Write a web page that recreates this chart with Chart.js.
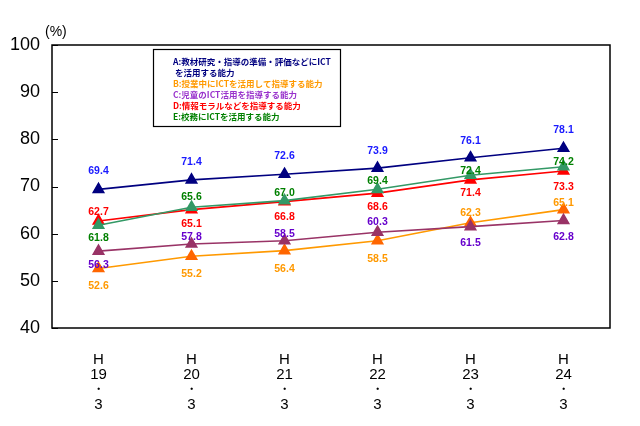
<!DOCTYPE html>
<html>
<head>
<meta charset="utf-8">
<script src="https://cdn.jsdelivr.net/npm/chart.js@4"></script>
<style>
  html, body { margin: 0; padding: 0; background: #fff; }
  #wrap { width: 640px; height: 426px; }
</style>
</head>
<body>
<div id="wrap"><canvas id="ictChart" width="640" height="426"></canvas></div>
<script>
// データ
const categories = [
    ['H', '19', '・', '3'],
    ['H', '20', '・', '3'],
    ['H', '21', '・', '3'],
    ['H', '22', '・', '3'],
    ['H', '23', '・', '3'],
    ['H', '24', '・', '3']
];
const valuesA = [69.4, 71.4, 72.6, 73.9, 76.1, 78.1];
const valuesB = [52.6, 55.2, 56.4, 58.5, 62.3, 65.1];
const valuesC = [56.3, 57.8, 58.5, 60.3, 61.5, 62.8];
const valuesD = [62.7, 65.1, 66.8, 68.6, 71.4, 73.3];
const valuesE = [61.8, 65.6, 67.0, 69.4, 72.4, 74.2];
const yTicks = [40, 50, 60, 70, 80, 90, 100];

const legendLines = [
    ['A:教材研究・指導の準備・評価などにICT', ' を活用する能力'],
    ['B:授業中にICTを活用して指導する能力'],
    ['C:児童のICT活用を指導する能力'],
    ['D:情報モラルなどを指導する能力'],
    ['E:校務にICTを活用する能力']
];

// ラベルの縦方向のずれ (px)
const offsetsA = [-18, -18, -18, -17, -17, -18];
const offsetsB = [18, 18, 18, 18, -10, -7];
const offsetsC = [14, -7, -7, -10, 17, 17];
const offsetsD = [-9, 14, 16, 14, 13, 16];
const offsetsE = [13, -10, -8, -8, -4, -5];

function makeSet(label, data, lineColor, markColor, textColor, offsets, order) {
    return {
        label: label,
        data: data,
        borderColor: lineColor,
        backgroundColor: markColor,
        pointBackgroundColor: markColor,
        pointBorderColor: markColor,
        pointStyle: 'triangle',
        pointRadius: 6,
        borderWidth: 1.6,
        fill: false,
        tension: 0,
        order: order,
        labelColor: textColor,
        labelOffsets: offsets
    };
}

// 枠線・目盛り・凡例・数値ラベル
const decorPlugin = {
    id: 'decor',
    afterDraw(chart) {
        const ctx = chart.ctx;
        const area = chart.chartArea;
        const yScale = chart.scales.y;
        ctx.save();

        // plot frame
        ctx.strokeStyle = '#000';
        ctx.lineWidth = 1.5;
        ctx.strokeRect(area.left, area.top, area.right - area.left, area.bottom - area.top);

        // inner ticks
        ctx.lineWidth = 1;
        yTicks.forEach(v => {
            const y = Math.round(yScale.getPixelForValue(v)) + 0.5;
            ctx.beginPath();
            ctx.moveTo(area.left, y);
            ctx.lineTo(area.left + 6, y);
            ctx.stroke();
        });

        // (%)
        ctx.fillStyle = '#000';
        ctx.font = '14px "Liberation Sans", sans-serif';
        ctx.textAlign = 'left';
        ctx.textBaseline = 'middle';
        ctx.fillText('(%)', 45, 32);

        // data labels
        ctx.font = 'bold 10.5px "Liberation Sans", sans-serif';
        ctx.textAlign = 'center';
        chart.data.datasets.forEach((ds, i) => {
            const meta = chart.getDatasetMeta(i);
            ctx.fillStyle = ds.labelColor;
            meta.data.forEach((pt, j) => {
                ctx.fillText(ds.data[j].toFixed(1), pt.x, pt.y + ds.labelOffsets[j]);
            });
        });

        // legend box
        const bx = 153, by = 49, bw = 187, bh = 77;
        ctx.fillStyle = '#fff';
        ctx.fillRect(bx, by, bw, bh);
        ctx.strokeStyle = '#000';
        ctx.lineWidth = 1.2;
        ctx.strokeRect(bx + 0.5, by + 0.5, bw, bh);
        ctx.font = 'bold 8.5px "Noto Sans CJK JP", sans-serif';
        ctx.textAlign = 'left';
        let ly = 62;
        legendLines.forEach((lines, i) => {
            ctx.fillStyle = chart.data.datasets[i].legendText;
            lines.forEach(t => {
                ctx.fillText(t, 173, ly);
                ly += 11;
            });
        });
        ctx.restore();
    }
};

const datasets = [
    makeSet('A', valuesA, '#000080', '#000080', '#1a1aff', offsetsA, 5),
    makeSet('B', valuesB, '#ff9900', '#ff6600', '#ff9900', offsetsB, 4),
    makeSet('C', valuesC, '#993366', '#993366', '#6600cc', offsetsC, 3),
    makeSet('D', valuesD, '#ff0000', '#ff0000', '#ff0000', offsetsD, 2),
    makeSet('E', valuesE, '#339966', '#339966', '#008000', offsetsE, 1)
];
const legendColors = ['#000080', '#ff9900', '#9933cc', '#ff0000', '#008000'];
datasets.forEach((ds, i) => { ds.legendText = legendColors[i]; });

const ctxIct = document.getElementById('ictChart').getContext('2d');
const ictChart = new Chart(ctxIct, {
    type: 'line',
    data: {
        labels: categories,
        datasets: datasets
    },
    options: {
        responsive: false,
        animation: false,
        layout: { padding: { left: 0, right: 30, top: 45, bottom: 0 } },
        plugins: {
            legend: { display: false },
            tooltip: { enabled: false }
        },
        scales: {
            x: {
                offset: true,
                grid: { display: false, drawTicks: false },
                border: { display: false },
                ticks: {
                    color: '#000',
                    padding: 24,
                    maxRotation: 0,
                    font: { family: '"Liberation Sans", sans-serif', size: 15, lineHeight: 1.0 }
                },
                afterFit(scale) { scale.height = 98; }
            },
            y: {
                min: 40,
                max: 100,
                afterBuildTicks(scale) { scale.ticks = yTicks.map(v => ({ value: v })); },
                grid: { display: false, drawTicks: false },
                border: { display: false },
                ticks: {
                    color: '#000',
                    padding: 12,
                    font: { family: '"Liberation Sans", sans-serif', size: 18 }
                },
                afterFit(scale) { scale.width = 52; }
            }
        }
    },
    plugins: [decorPlugin]
});
</script>
</body>
</html>
